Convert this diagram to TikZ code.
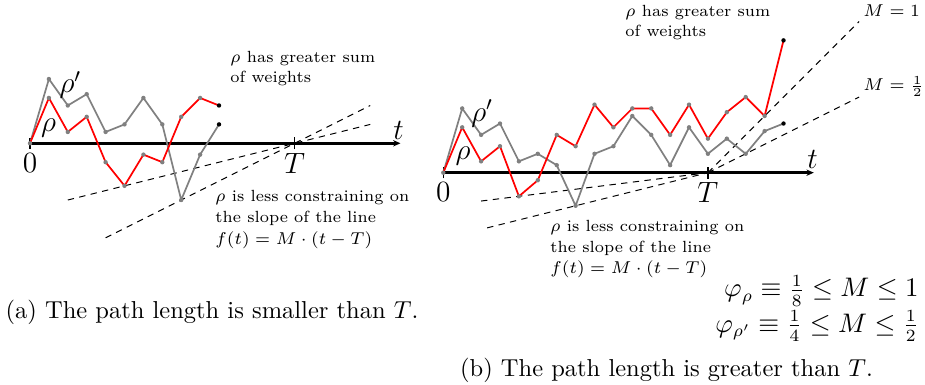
\documentclass[tikz,border=0pt]{standalone}
\usepackage{amsmath,amssymb}
\usepackage{xcolor}
\usepackage{tikz}
\usetikzlibrary{arrows.meta,positioning,calc}
\tikzset{
wpaxis/.style={-{Stealth[length=3pt,width=2.6pt]},line width=1pt},
wptick/.style={line width=0.55pt},
wpred/.style={red,line width=0.7pt,line join=round},
wpgray/.style={gray,line width=0.7pt,line join=round},
wpdot/.style={fill=gray},
wpend/.style={fill=black},
wpslope/.style={line width=0.4pt,dash pattern=on 2.6pt off 2.2pt},
wplabel/.style={font=\large,inner sep=0pt},
wpnote/.style={font=\fontsize{6.6}{8.2}\selectfont,align=left,inner sep=0pt,anchor=base west},
wpnotewide/.style={wpnote,font=\fontsize{6.6}{8.7}\selectfont},
wpbound/.style={font=\fontsize{6.8}{8}\selectfont,inner sep=0pt,anchor=base west},
wpcap/.style={font=\normalsize,inner sep=0pt,anchor=base},
wpphi/.style={font=\fontsize{10.5}{12}\selectfont,inner sep=0pt,anchor=base east}
}

\begin{document}
\begin{tikzpicture}[x=0.40816pt,y=-0.40816pt]
\useasboundingbox (0,0) rectangle (925,385);
% (a) path shorter than T
\begin{scope}[shift={(30,143.3)},x=1.543pt,y=1.543pt]
\coordinate (oa) at (0,0);
\coordinate (Ta) at (70,0);
\coordinate (ea) at (98,0);
\coordinate (qa1) at (10,-15);
\coordinate (qa2) at (90,5);
\coordinate (qa3) at (20,-25);
\coordinate (qa4) at (90,10);
\foreach \v [count=\i from 0] in {0,17,10,13,3,5,12,5,-15,-3,5}
  \coordinate (ga\i) at (5*\i,\v);
\foreach \v [count=\i from 0] in {0,12,3,7,-5,-11.25,-3,-5,7,12,10}
  \coordinate (ra\i) at (5*\i,\v);
\draw[wpslope] (qa1)--(qa2);
\draw[wpslope] (qa3)--(qa4);
\draw[wpaxis] (oa)--(ea);
\draw[wptick] ($(oa)+(0,-1.5)$)--($(oa)+(0,1.5)$);
\draw[wptick] ($(Ta)+(0,-1.6)$)--($(Ta)+(0,1.6)$);
\draw[wpgray] (ga0) \foreach \i in {1,...,10}{--(ga\i)};
\draw[wpred] (ra0) \foreach \i in {1,...,10}{--(ra\i)};
\foreach \i in {0,...,9} \fill[wpdot] (ga\i) circle (0.9pt);
\foreach \i in {1,...,9} \fill[wpdot] (ra\i) circle (0.9pt);
\fill[wpend] (ga10) circle (0.9pt);
\fill[wpend] (ra10) circle (0.9pt);
\node[wplabel] (zeroa) at (0,-5.2) {$0$};
\node[wplabel] (Tlaba) at (70,-5.3) {$T$};
\node[wplabel] (tlaba) at (97.5,3.5) {$t$};
\node[wplabel] (rhopa) at (10.7,15.4) {$\rho'$};
\node[wplabel] (rhoa) at (4.9,4.0) {$\rho$};
\end{scope}
\node[wpnote] (wsuma) at (230,82.3) {$\rho$ has greater sum\\of weights};
\node[wpnotewide] (slopea) at (215,244.3) {$\rho$ is less constraining on\\the slope of the line\\$f(t)=M\cdot(t-T)$};
\node[wpcap] (capa) at (212,319) {(a) The path length is smaller than $T$.};
% (b) path longer than T
\begin{scope}[shift={(443.3,172.7)},x=1.543pt,y=1.543pt]
\coordinate (ob) at (0,0);
\coordinate (Tb) at (70,0);
\coordinate (eb) at (98,0);
\coordinate (qb1) at (10,-7.5);
\coordinate (qb2) at (11.6,-14.6);
\coordinate (qb3) at (110,40);
\coordinate (qb4) at (110,20);
\foreach \v [count=\i from 0] in {0,17,10,13,3,5,2,-8.75,5,7,15,10,2,12,5,9,5,11,13}
  \coordinate (gb\i) at (5*\i,\v);
\foreach \v [count=\i from 0] in {0,12,3,7,-6.25,-2,10,7,18,12,17,17,10,18,9,16,20,15,35}
  \coordinate (rb\i) at (5*\i,\v);
\draw[wpslope] (qb1)--(Tb);
\draw[wpslope] (qb2)--(Tb);
\draw[wpslope] (Tb)--(qb3);
\draw[wpslope] (Tb)--(qb4);
\draw[wpaxis] (ob)--(eb);
\draw[wptick] ($(ob)+(0,-1.5)$)--($(ob)+(0,1.5)$);
\draw[wptick] ($(Tb)+(0,-1.6)$)--($(Tb)+(0,1.6)$);
\draw[wpgray] (gb0) \foreach \i in {1,...,18}{--(gb\i)};
\draw[wpred] (rb0) \foreach \i in {1,...,18}{--(rb\i)};
\foreach \i in {0,...,17} \fill[wpdot] (gb\i) circle (0.9pt);
\foreach \i in {1,...,17} \fill[wpdot] (rb\i) circle (0.9pt);
\fill[wpend] (gb18) circle (0.9pt);
\fill[wpend] (rb18) circle (0.9pt);
\node[wplabel] (zerob) at (0,-5.2) {$0$};
\node[wplabel] (Tlabb) at (70,-5.3) {$T$};
\node[wplabel] (tlabb) at (97.7,3.5) {$t$};
\node[wplabel] (rhopb) at (10.3,15.6) {$\rho'$};
\node[wplabel] (rhob) at (5.2,4.4) {$\rho$};
\node[wpbound] (mone) at (111,41.3) {$M=1$};
\node[wpbound] (mhalf) at (111,21.7) {$M=\frac{1}{2}$};
\end{scope}
\node[wpnote] (wsumb) at (625,37) {$\rho$ has greater sum\\of weights};
\node[wpnotewide] (slopeb) at (550,274) {$\rho$ is less constraining on\\the slope of the line\\$f(t)=M\cdot(t-T)$};
\node[wpphi] (phia) at (919,297) {$\varphi_\rho\equiv\frac{1}{8}\le M\le 1$};
\node[wpphi] (phib) at (919,332.5) {$\varphi_{\rho'}\equiv\frac{1}{4}\le M\le\frac{1}{2}$};
\node[wpcap] (capb) at (666.5,377) {(b) The path length is greater than $T$.};
\end{tikzpicture}
\end{document}
